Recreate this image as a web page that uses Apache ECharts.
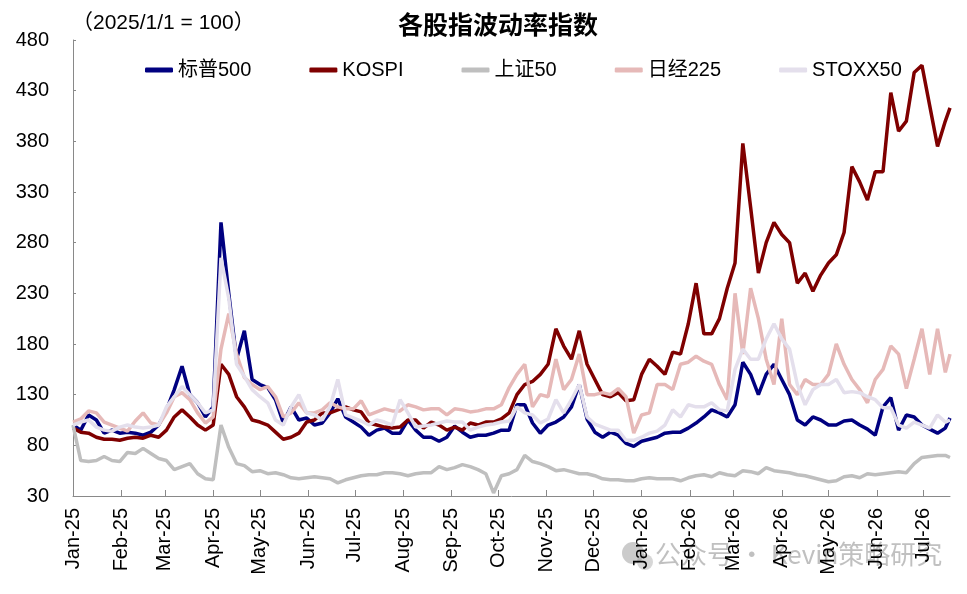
<!DOCTYPE html>
<html>
<head>
<meta charset="utf-8">
<script src="https://cdn.jsdelivr.net/npm/echarts@6/dist/echarts.min.js"></script>
<style>
  html, body { margin: 0; padding: 0; background: #fff; }
  #chart { width: 967px; height: 594px; }
</style>
</head>
<body>
<div id="chart"></div>
<script>
// readings every 5 days from 2025-01-01 (x = days since that date), last one on 2026-07-18
const DAY = 86400000;
const startDay = Date.UTC(2025, 0, 1);
const dayOffsets = [];
for (let d = 0; d <= 560; d += 5) dayOffsets.push(d);
dayOffsets.push(563);

const monthLabels = ['Jan-25', 'Feb-25', 'Mar-25', 'Apr-25', 'May-25', 'Jun-25', 'Jul-25', 'Aug-25', 'Sep-25',
  'Oct-25', 'Nov-25', 'Dec-25', 'Jan-26', 'Feb-26', 'Mar-26', 'Apr-26', 'May-26', 'Jun-26', 'Jul-26'];
const monthStartDays = monthLabels.map((s, i) => Math.round((Date.UTC(2025, i, 1) - startDay) / DAY));

const seriesNames = ['标普500', 'KOSPI', '上证50', '日经225', 'STOXX50'];
const seriesColors = ['#000080', '#7f0000', '#bfbfbf', '#e6b9b8', '#e4dfec'];

const spx = [100, 95, 110, 105, 92, 95, 92, 93, 92, 90, 93, 100, 115, 135, 158, 130, 122, 108, 118,
  300, 230, 165, 193, 145, 140, 137, 125, 102, 118, 105, 107, 100, 102, 112, 126, 108, 103, 98, 90,
  95, 97, 92, 92, 105, 95, 88, 88, 84, 88, 99, 93, 88, 90, 90, 92, 95, 95, 120,
  120, 102, 92, 100, 103, 108, 118, 140, 106, 93, 88, 93, 90, 82, 79, 84, 86, 88, 92,
  93, 93, 97, 102, 108, 115, 112, 108, 120, 162, 150, 130, 150, 160, 145, 130, 105, 100, 108, 105,
  100, 100, 104, 105, 100, 96, 90, 118, 127, 95, 110, 108, 100, 96, 92, 97, 107];

const kospi = [97, 93, 92, 88, 86, 86, 85, 87, 88, 87, 90, 88, 95, 108, 115, 108, 100, 95, 100,
  160, 150, 128, 118, 105, 103, 100, 93, 86, 88, 92, 103, 105, 112, 112, 115, 118, 115, 113, 102,
  100, 98, 97, 98, 105, 105, 97, 103, 100, 95, 98, 95, 102, 100, 103, 103, 106, 112, 130,
  140, 143, 150, 160, 195, 178, 165, 193, 160, 145, 130, 128, 132, 124, 125, 150, 165, 158, 150,
  172, 170, 200, 240, 190, 190, 205, 235, 260, 378, 315, 250, 280, 300, 288, 280, 240, 250, 232, 248,
  260, 268, 290, 355, 340, 322, 350, 350, 428, 390, 400, 448, 455, 415, 375, 400, 413];

const sse50 = [100, 65, 64, 65, 69, 65, 64, 73, 72, 77, 72, 67, 65, 56, 59, 62, 52, 47, 46,
  100, 78, 62, 60, 54, 55, 52, 53, 51, 48, 47, 48, 49, 48, 47, 43, 46, 48, 50, 51,
  51, 53, 53, 52, 50, 52, 53, 53, 59, 56, 58, 61, 59, 56, 52, 33, 50, 52, 56,
  70, 64, 62, 59, 55, 56, 54, 52, 52, 50, 47, 46, 46, 45, 45, 47, 48, 47, 47,
  47, 45, 48, 50, 51, 49, 53, 51, 50, 55, 54, 52, 58, 55, 54, 53, 51, 50, 48, 46,
  44, 45, 49, 50, 48, 52, 51, 52, 53, 54, 53, 62, 68, 69, 70, 70, 68];

const nikkei = [103, 106, 114, 112, 103, 100, 97, 94, 104, 112, 102, 100, 112, 128, 132, 125, 112, 102, 108,
  175, 210, 170, 147, 140, 135, 138, 128, 108, 112, 122, 112, 112, 115, 122, 118, 116, 116, 124, 110,
  113, 116, 114, 114, 120, 118, 115, 116, 116, 110, 116, 115, 113, 114, 116, 116, 120, 137, 150,
  160, 118, 130, 128, 165, 135, 145, 170, 130, 130, 132, 130, 136, 128, 92, 110, 112, 140, 140,
  135, 160, 162, 168, 163, 160, 140, 125, 230, 170, 235, 205, 165, 140, 205, 140, 130, 145, 140, 140,
  150, 180, 160, 145, 135, 122, 145, 155, 178, 170, 136, 165, 195, 150, 195, 152, 170];

const stoxx = [100, 103, 105, 98, 95, 94, 98, 100, 98, 97, 98, 100, 118, 128, 138, 130, 122, 112, 115,
  265, 225, 160, 148, 135, 128, 122, 105, 100, 118, 130, 112, 110, 105, 118, 145, 110, 107, 104, 100,
  105, 103, 100, 125, 112, 98, 99, 100, 102, 104, 103, 103, 95, 98, 100, 101, 103, 104, 118,
  112, 110, 102, 106, 125, 112, 125, 140, 108, 101, 98, 95, 95, 85, 85, 88, 92, 94, 100,
  115, 108, 120, 118, 118, 122, 115, 114, 155, 175, 165, 165, 185, 200, 185, 175, 140, 120, 135, 140,
  140, 145, 132, 133, 132, 128, 125, 117, 117, 100, 97, 103, 100, 97, 110, 103, 105];

const allValues = [spx, kospi, sse50, nikkei, stoxx];

const latin = '"Liberation Sans", Arial, "Noto Sans CJK SC", sans-serif';
const cjk = '"Noto Sans CJK SC", "Liberation Sans", sans-serif';
const axisGray = '#898989';

const chart = echarts.init(document.getElementById('chart'));

const option = {
  backgroundColor: '#fff',
  animation: false,
  title: [
    {
      text: '各股指波动率指数',
      left: 393, top: 7,
      textStyle: { fontFamily: cjk, fontSize: 25, fontWeight: 'bold', color: '#000' }
    },
    {
      text: '（2025/1/1 = 100）',
      left: 67, top: 8,
      textStyle: { fontFamily: latin, fontSize: 21, fontWeight: 'normal', color: '#000' }
    }
  ],
  legend: {
    data: seriesNames,
    left: 140, top: 55,
    icon: 'roundRect',
    itemWidth: 28, itemHeight: 5,
    itemGap: 58,
    textStyle: { fontFamily: latin, fontSize: 20, color: '#000' }
  },
  grid: { left: 73, right: 17, top: 40, bottom: 98, containLabel: false },
  xAxis: {
    type: 'value',
    min: 0,
    max: dayOffsets[dayOffsets.length - 1],
    splitLine: { show: false },
    axisLine: { lineStyle: { color: axisGray, width: 1 } },
    axisTick: { show: true, inside: true, length: 6, lineStyle: { color: axisGray }, customValues: monthStartDays },
    axisLabel: {
      customValues: monthStartDays,
      rotate: 90,
      margin: 12,
      fontFamily: latin, fontSize: 20, color: '#000',
      formatter: function (v) {
        return monthLabels[monthStartDays.indexOf(v)];
      }
    }
  },
  yAxis: {
    type: 'value',
    min: 30, max: 480, interval: 50,
    splitLine: { show: false },
    axisLine: { show: true, lineStyle: { color: axisGray, width: 1 } },
    axisTick: { show: true, inside: true, length: 3, lineStyle: { color: axisGray } },
    axisLabel: { fontFamily: latin, fontSize: 20, color: '#000', margin: 24 }
  },
  graphic: [
    // watermark: chat-bubble icon + account name
    { type: 'circle', shape: { cx: 633, cy: 553, r: 11 }, style: { fill: 'rgba(140,140,140,0.45)' } },
    { type: 'circle', shape: { cx: 645, cy: 562, r: 8 }, style: { fill: 'rgba(140,140,140,0.35)' } },
    {
      type: 'text',
      left: 655, top: 541,
      style: {
        text: '公众号 · Kevin策略研究',
        font: '26px "Noto Sans CJK SC", sans-serif',
        fill: 'rgba(140,140,140,0.55)'
      }
    }
  ],
  series: seriesNames.map((name, k) => ({
    name: name,
    type: 'line',
    showSymbol: false,
    symbol: 'none',
    color: seriesColors[k],
    lineStyle: { width: 3.5, color: seriesColors[k] },
    data: dayOffsets.map((d, i) => [d, allValues[k][i]])
  }))
};

chart.setOption(option);
</script>
</body>
</html>
